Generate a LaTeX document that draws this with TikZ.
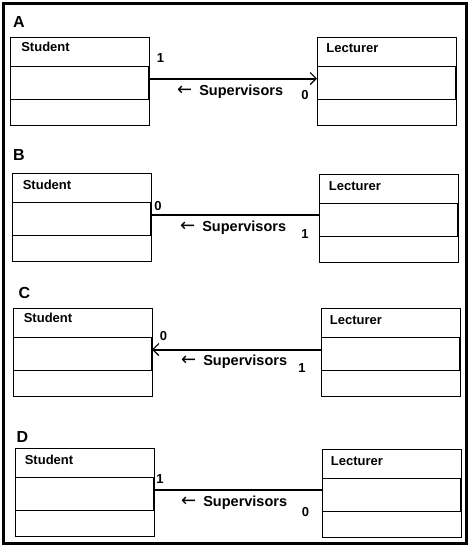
\documentclass[tikz,border=0pt]{standalone}
\usepackage{fontspec}
\setmainfont{Liberation Sans}
\newfontfamily\arrowfont{DejaVu Sans}
\usepackage{tikz}
\usetikzlibrary{positioning, arrows.meta}

\begin{document}
\begin{tikzpicture}[
  x=1pt, y=-1pt,
  every node/.style={font=\bfseries\fontsize{13}{15}\selectfont},
  box/.style={draw, line width=1pt, minimum width=139pt, inner sep=0pt, outer sep=0pt},
  head/.style={box, minimum height=29pt, anchor=north west},
  mid/.style={box, minimum height=33pt},
  foot/.style={box, minimum height=26pt},
  conn/.style={line width=2pt},
  barb/.tip={Straight Barb[length=6pt,width=12pt,line width=1.2pt]},
  title/.style={font=\bfseries\fontsize{16}{18}\selectfont},
  rel/.style={anchor=base west, inner sep=0pt, font=\bfseries\fontsize{14.5}{16}\selectfont}
]
  \useasboundingbox (0,0) rectangle (470,550);
  \draw[line width=3pt] (3.5,3.5) rectangle (466,543.5);

  % A
  \node[title] (tA) at (19,22) {A};
  \node[head] (sAh) at (10,37) {};
  \node[mid, below=0pt of sAh] (sAm) {};
  \node[foot, below=0pt of sAm] (sAf) {};
  \node[head] (lAh) at (317,37) {};
  \node[mid, below=0pt of lAh] (lAm) {};
  \node[foot, below=0pt of lAm] (lAf) {};
  \node at (45.5,47) {Student};
  \node at (352.5,48.5) {Lecturer};
  \coordinate (cA) at ([yshift=4pt]sAm.east);
  \draw[conn, -barb] (cA) -- (cA -| lAm.west);
  \node at (160.5,58) {1};
  \node at (305,95.5) {0};
  \node[rel] at (177,95) {{\arrowfont\mdseries\fontsize{18}{18}\selectfont ←}\hspace{3pt} Supervisors};

  % B
  \node[title] (tB) at (19,155) {B};
  \node[head] (sBh) at (12,173) {};
  \node[mid, below=0pt of sBh] (sBm) {};
  \node[foot, below=0pt of sBm] (sBf) {};
  \node[head] (lBh) at (319,174) {};
  \node[mid, below=0pt of lBh] (lBm) {};
  \node[foot, below=0pt of lBm] (lBf) {};
  \node at (47,184.5) {Student};
  \node at (355,186) {Lecturer};
  \coordinate (cB) at ([yshift=4pt]sBm.east);
  \draw[conn] (cB) -- (cB -| lBm.west);
  \node at (158,206) {0};
  \node at (305,234) {1};
  \node[rel] at (180,231) {{\arrowfont\mdseries\fontsize{18}{18}\selectfont ←}\hspace{3pt} Supervisors};

  % C
  \node[title] (tC) at (24.5,293) {C};
  \node[head] (sCh) at (13,308) {};
  \node[mid, below=0pt of sCh] (sCm) {};
  \node[foot, below=0pt of sCm] (sCf) {};
  \node[head] (lCh) at (321,308) {};
  \node[mid, below=0pt of lCh] (lCm) {};
  \node[foot, below=0pt of lCm] (lCf) {};
  \node at (48,318) {Student};
  \node at (356,320) {Lecturer};
  \coordinate (cC) at ([yshift=4pt]lCm.west);
  \draw[conn, -barb] (cC) -- (cC -| sCm.east);
  \node at (163.5,336) {0};
  \node at (302,368) {1};
  \node[rel] at (181,365) {{\arrowfont\mdseries\fontsize{18}{18}\selectfont ←}\hspace{3pt} Supervisors};

  % D
  \node[title] (tD) at (22.5,437) {D};
  \node[head] (sDh) at (15,448) {};
  \node[mid, below=0pt of sDh] (sDm) {};
  \node[foot, below=0pt of sDm] (sDf) {};
  \node[head] (lDh) at (322,449) {};
  \node[mid, below=0pt of lDh] (lDm) {};
  \node[foot, below=0pt of lDm] (lDf) {};
  \node at (49,460) {Student};
  \node at (357,461) {Lecturer};
  \coordinate (cD) at ([yshift=4pt]sDm.east);
  \draw[conn] (cD) -- (cD -| lDm.west);
  \node at (160,479) {1};
  \node at (305.5,512) {0};
  \node[rel] at (181,506.5) {{\arrowfont\mdseries\fontsize{18}{18}\selectfont ←}\hspace{3pt} Supervisors};

  % heavier right edge of the middle compartments
  \foreach \m in {sAm,lAm,sBm,lBm,sCm,lCm,sDm,lDm}
    \draw[line width=2pt] (\m.north east) -- (\m.south east);
\end{tikzpicture}
\end{document}
